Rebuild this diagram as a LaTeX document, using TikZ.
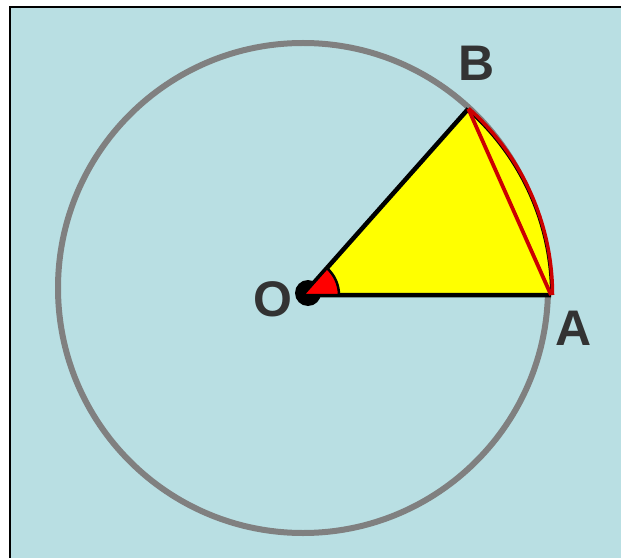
\documentclass[tikz,border=0pt]{standalone}
\usepackage{fontspec}
\setmainfont{Liberation Sans}
\definecolor{bgblue}{RGB}{185,223,227}
\definecolor{labelgray}{RGB}{51,51,51}
\definecolor{sectorred}{RGB}{204,0,0}
\definecolor{pureyellow}{RGB}{255,255,0}
\begin{document}
\begin{tikzpicture}[x=1pt,y=1pt,
  lbl/.style={font=\fontsize{50}{50}\selectfont\bfseries, text=labelgray, inner sep=0pt}]
\useasboundingbox (0,0) rectangle (621,558);
% background
\fill[bgblue] (10,0) rectangle (621,551);
\draw[black, line width=2pt] (10,0) -- (10,551) -- (621,551);
% circle
\draw[gray, line width=6pt] (303,270) circle[radius=245pt];
% points
\coordinate (O) at (303,263);
\coordinate (A) at (551,263);
\coordinate (B) at (468.3,449.2);
% dot at O
\fill[black] (308,265) circle[radius=13pt];
% sector
\fill[pureyellow] (O) -- (A) arc[start angle=0, end angle=48.4, radius=248pt] -- cycle;
\draw[black, line width=2pt] (A) arc[start angle=0, end angle=48.4, radius=246.5pt];
\draw[sectorred, line width=3.5pt] (A) ++(1.5,0) arc[start angle=0, end angle=48.4, radius=249.5pt];
\draw[black, line width=4.5pt, line join=round] (A) -- (O) -- (B);
% chord
\draw[sectorred, line width=3.8pt] (B) -- (A);
% small angle
\filldraw[fill=red, draw=black, line width=2.5pt] (O) -- ++(36,0) arc[start angle=0, end angle=48.4, radius=36pt] -- cycle;
% labels
\node[lbl] (Bl) at (477,495) {B};
\node[lbl] (Al) at (574,230) {A};
\node[lbl] (Ol) at (273,259) {O};
\end{tikzpicture}
\end{document}
